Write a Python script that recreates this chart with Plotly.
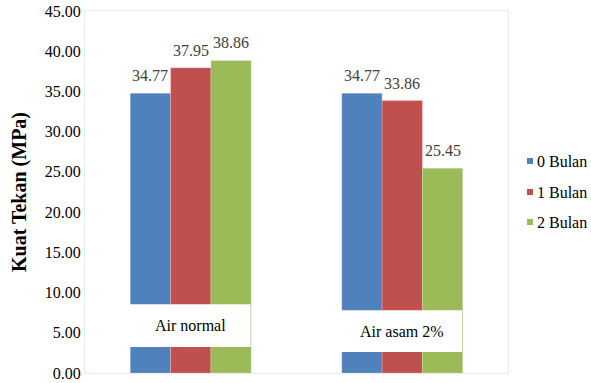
import plotly.graph_objects as go

# Compressive strength (MPa) per curing medium and immersion age
categories = ["Air normal", "Air asam 2%"]
series_names = ["0 Bulan", "1 Bulan", "2 Bulan"]
bulan_0 = [34.77, 34.77]
bulan_1 = [37.95, 33.86]
bulan_2 = [38.86, 25.45]
y_ticks = [0, 5, 10, 15, 20, 25, 30, 35, 40, 45]

colors = ["#4F81BD", "#C0504D", "#9BBB59"]
serif = "Liberation Serif"

W, H = 591, 383
ML, MR, MT, MB = 85, 83, 11, 10
plot_w = W - ML - MR
plot_h = H - MT - MB

fig = go.Figure()
xs = [0, 1]
for name, vals, col in zip(series_names, [bulan_0, bulan_1, bulan_2], colors):
    fig.add_trace(go.Bar(
        x=xs, y=vals, name=name, marker_color=col,
        marker_line=dict(color="rgba(255,255,255,0.35)", width=0.6),
        showlegend=False,
    ))

fig.update_layout(
    barmode="group", bargap=0.428, bargroupgap=0,
    width=W, height=H,
    margin=dict(l=ML, r=MR, t=MT, b=MB, autoexpand=False),
    paper_bgcolor="white", plot_bgcolor="white",
    font=dict(family=serif, size=16, color="#000000"),
    showlegend=False,
)
fig.update_xaxes(range=[-0.5, 1.5], showticklabels=False, showgrid=False,
                 zeroline=False, ticks="", showline=True, mirror=True,
                 linecolor="#EBEBE4", linewidth=1, automargin=False)
fig.update_yaxes(range=[0, 45], tickvals=y_ticks, tickformat=".2f",
                 showgrid=False, zeroline=False, ticks="", showline=True,
                 mirror=True, linecolor="#EBEBE4", linewidth=1,
                 ticklabeloverflow="allow", automargin=False,
                 tickfont=dict(family=serif, size=16, color="#000000"),
                 title=dict(text="<b>Kuat Tekan (MPa)</b>",
                            font=dict(family=serif, size=20, color="#000000"),
                            standoff=12))

# value labels above each bar
offsets = [-1, 0, 1]
w = (1 - 0.428) / 3
for off, vals in zip(offsets, [bulan_0, bulan_1, bulan_2]):
    for i, v in enumerate(vals):
        fig.add_annotation(x=i + off * w, y=v, text=f"{v:.2f}", showarrow=False,
                           yanchor="bottom", yshift=7,
                           font=dict(family=serif, size=16, color="#404040"))

# category labels on white boxes over the bars
label_boxes = [(8.55, 3.22), (7.81, 2.60)]
for i, (cat, (top, bot)) in enumerate(zip(categories, label_boxes)):
    fig.add_shape(type="rect", xref="x", yref="y",
                  x0=i - 0.29, x1=i + 0.283, y0=bot, y1=top,
                  fillcolor="white", line=dict(width=0), layer="above")
    fig.add_annotation(x=i, y=(top + bot) / 2, text=cat, showarrow=False,
                       font=dict(family=serif, size=16, color="#000000"))

# legend on the right: small square swatch + series name
legend_rows_px = [161, 192, 222]
sw_x0, sw_x1, txt_x = 527, 533, 535
for name, col, ypx in zip(series_names, colors, legend_rows_px):
    yp = (H - MB - ypx) / plot_h
    fig.add_shape(type="rect", xref="paper", yref="paper",
                  x0=(sw_x0 - ML) / plot_w, x1=(sw_x1 - ML) / plot_w,
                  y0=yp - 3 / plot_h, y1=yp + 3 / plot_h,
                  fillcolor=col, line=dict(width=0))
    fig.add_annotation(xref="paper", yref="paper", x=(txt_x - ML) / plot_w, y=yp,
                       xanchor="left", yanchor="middle", text=name,
                       showarrow=False,
                       font=dict(family=serif, size=16, color="#000000"))

fig.write_html("out.html")
